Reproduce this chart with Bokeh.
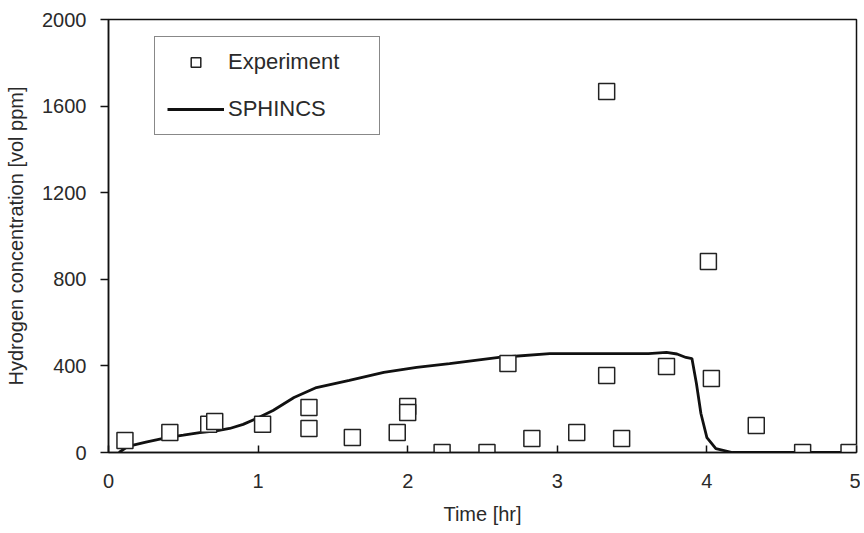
from bokeh.plotting import figure
from bokeh.models import Legend, LegendItem, FixedTicker, Range1d
from bokeh.embed import file_html
from bokeh.resources import INLINE

# Experiment data (time [hr], hydrogen [vol ppm])
exp_t = [0.11, 0.41, 0.67, 0.71, 1.03, 1.34, 1.34, 1.63, 1.93, 2.0, 2.0, 2.23, 2.53,
         2.67, 2.83, 3.13, 3.33, 3.33, 3.43, 3.73, 4.01, 4.03, 4.33, 4.64, 4.95]
exp_h = [55, 92, 130, 143, 130, 208, 111, 69, 92, 212, 185, 0, 0,
         411, 65, 92, 1667, 356, 65, 397, 882, 342, 125, 0, 0]

# SPHINCS simulation
sph_t = [0.07, 0.13, 0.25, 0.39, 0.5, 0.61, 0.72, 0.81, 0.9, 0.99, 1.1, 1.24, 1.39,
         1.61, 1.84, 2.06, 2.28, 2.61, 2.95, 3.28, 3.61, 3.73, 3.8, 3.86, 3.9, 3.93,
         3.96, 4.0, 4.06, 4.17, 4.5, 5.0]
sph_h = [0, 28, 48, 69, 80, 92, 100, 111, 130, 157, 194, 254, 300,
         333, 370, 393, 411, 439, 457, 457, 457, 462, 455, 439, 434, 319,
         180, 69, 18, 0, 0, 0]

x_ticks = [0, 1, 2, 3, 4, 5]
y_ticks = [0, 400, 800, 1200, 1600, 2000]

FONT = "Liberation Sans"
TXT = "#2a2a2a"

p = figure(frame_width=748, frame_height=433, output_backend="svg", toolbar_location=None,
           x_range=Range1d(0, 5), y_range=Range1d(0, 2000),
           min_border_left=108, min_border_top=19, min_border_right=4,
           min_border_bottom=70)
p.background_fill_color = "white"
p.border_fill_color = "white"
p.outline_line_color = "#111111"
p.outline_line_width = 1.5
p.xgrid.visible = False
p.ygrid.visible = False

for ax in (p.xaxis[0], p.yaxis[0]):
    ax.axis_line_color = "#111111"
    ax.axis_line_width = 1.5
    ax.major_tick_line_color = "#111111"
    ax.major_tick_line_width = 1.5
    ax.minor_tick_line_color = None
    ax.major_label_text_font = FONT
    ax.major_label_text_font_size = "20px"
    ax.major_label_text_color = TXT
    ax.axis_label_text_font = FONT
    ax.axis_label_text_font_size = "20px"
    ax.axis_label_text_font_style = "normal"
    ax.axis_label_text_color = TXT

p.xaxis.ticker = FixedTicker(ticks=x_ticks)
p.yaxis.ticker = FixedTicker(ticks=y_ticks)
p.xaxis.major_tick_in = 7
p.xaxis.major_tick_out = 0
p.xaxis.major_label_standoff = 21
p.yaxis.major_tick_in = 0
p.yaxis.major_tick_out = 8
p.yaxis.major_label_standoff = 14
p.xaxis.axis_label = "Time [hr]"
p.yaxis.axis_label = "Hydrogen concentration [vol ppm]"
p.xaxis.axis_label_standoff = 12
p.yaxis.axis_label_standoff = 12

line = p.line(sph_t, sph_h, line_color="#111111", line_width=2.8)
pts = p.scatter(exp_t, exp_h, marker="square", size=16, fill_color="white",
                line_color="#222222", line_width=1.5)

legend = Legend(items=[LegendItem(label="Experiment", renderers=[pts]),
                       LegendItem(label="SPHINCS", renderers=[line])],
                location=(46, 317), orientation="vertical",
                label_text_font=FONT, label_text_font_size="22px",
                label_text_color=TXT, glyph_width=57, glyph_height=24,
                label_height=24, label_width=139, label_standoff=4,
                spacing=21, padding=12, margin=0,
                border_line_color="#111111", border_line_width=1.5,
                background_fill_alpha=1.0)
p.add_layout(legend)

open("out.html", "w").write(file_html(p, INLINE))
